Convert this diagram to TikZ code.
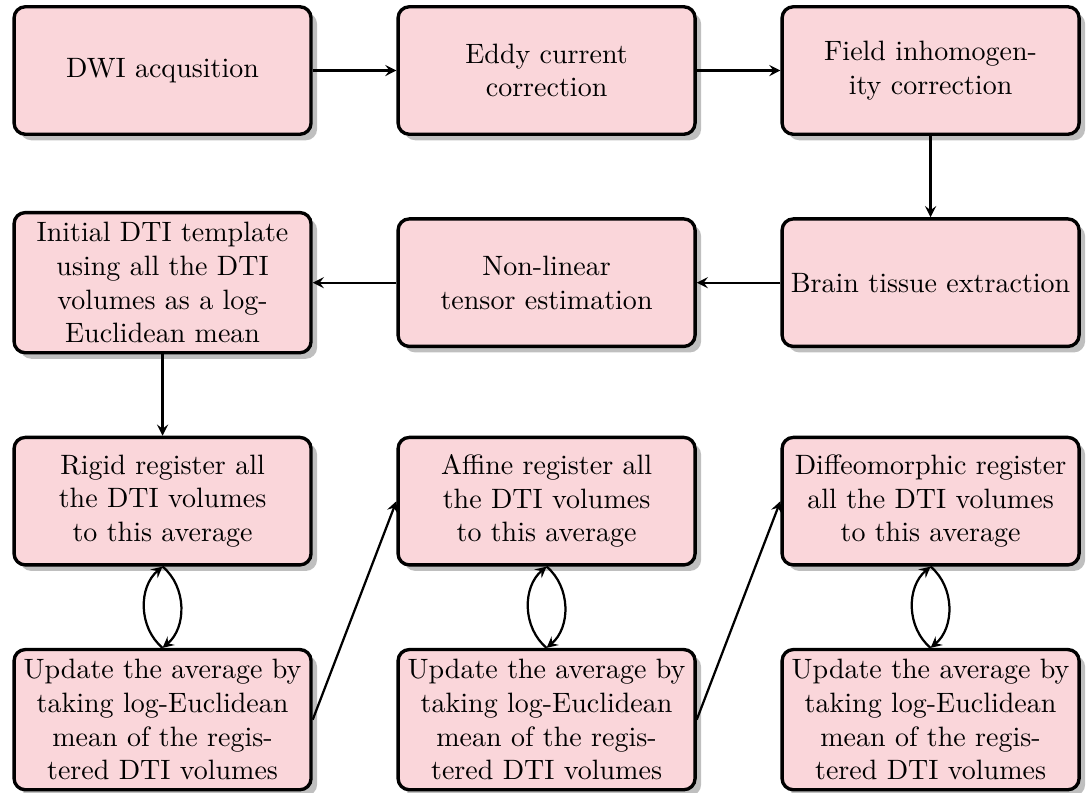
\documentclass[tikz,border=0pt]{standalone}
\usepackage{amsmath}
\usepackage{tikz}
\usetikzlibrary{positioning,shadows,arrows.meta}

\definecolor{boxpink}{RGB}{250,214,218}

\tikzset{
  block/.style={rectangle, draw, very thick, fill=boxpink, rounded corners, drop shadow,
    text width=3.6cm, minimum height=1.6cm, align=center, inner xsep=1.8pt, inner ysep=3.5pt},
  line/.style={draw, thick, -{Stealth[length=4pt,width=4pt,inset=1.5pt]}}
}

\begin{document}
\begin{tikzpicture}[node distance=1.02cm and 1.05cm]
\useasboundingbox (0,0) rectangle (13.64,-9.94);
% first row
\node[block] (dwi) at (2.04,-0.885) {DWI acqusition};
\node[block, right=of dwi] (eddy) {Eddy current\\ correction};
\node[block, right=of eddy] (field) {Field inhomogen-\\ity correction};
% second row
\node[block, below=of field] (brain) {Brain tissue extraction};
\node[block, left=of brain] (tensor) {Non-linear\\ tensor estimation};
\node[block, left=of tensor] (init) {Initial DTI template\\ using all the DTI\\ volumes as a log-\\ Euclidean mean};
% registration
\node[block, below=of init] (rigid) {Rigid register all\\ the DTI volumes\\ to this average};
\node[block, right=of rigid] (affine) {Affine register all\\ the DTI volumes\\ to this average};
\node[block, right=of affine] (diffeo) {Diffeomorphic register\\ all the DTI volumes\\ to this average};
% updates
\node[block, below=of rigid] (upda) {Update the average by\\ taking log-Euclidean\\ mean of the regis-\\tered DTI volumes};
\node[block, below=of affine] (updb) {Update the average by\\ taking log-Euclidean\\ mean of the regis-\\tered DTI volumes};
\node[block, below=of diffeo] (updc) {Update the average by\\ taking log-Euclidean\\ mean of the regis-\\tered DTI volumes};

\path[line] (dwi) -- (eddy);
\path[line] (eddy) -- (field);
\path[line] (field) -- (brain);
\path[line] (brain) -- (tensor);
\path[line] (tensor) -- (init);
\path[line] (init) -- (rigid);
\foreach \reg/\upd in {rigid/upda, affine/updb, diffeo/updc}{
  \path[line] (\upd.north) to[bend left=50] (\reg.south);
  \path[line] (\reg.south) to[bend left=50] (\upd.north);
}
\path[line] (upda.east) -- (affine.west);
\path[line] (updb.east) -- (diffeo.west);
\end{tikzpicture}
\end{document}
